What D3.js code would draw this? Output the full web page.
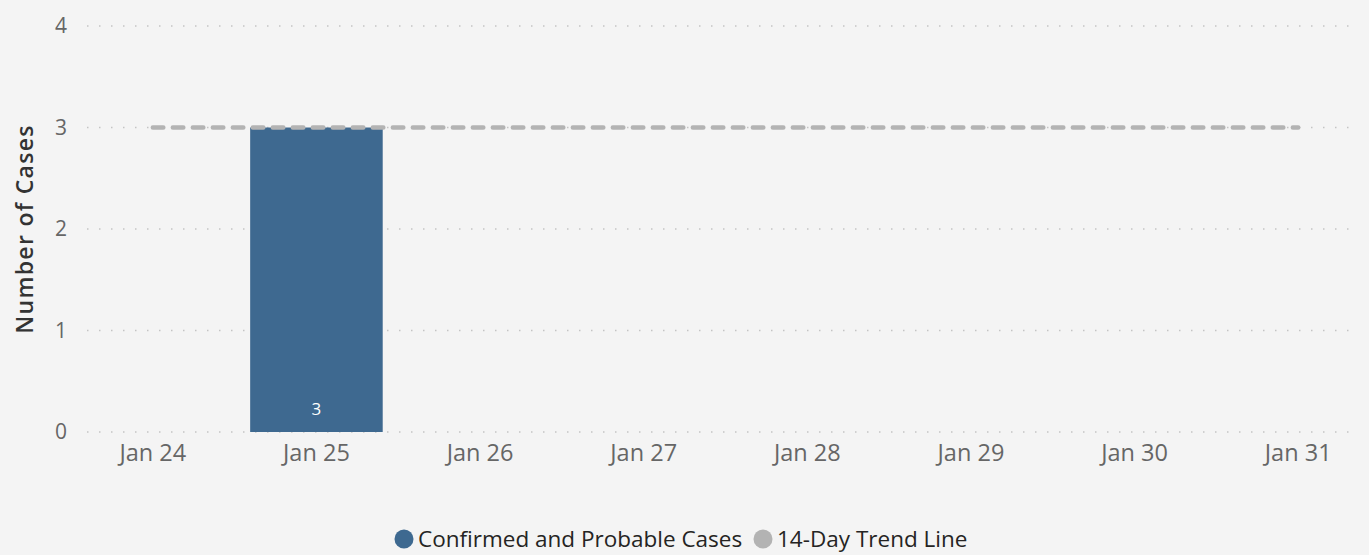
<!DOCTYPE html>
<html>
<head>
<meta charset="utf-8">
<script src="https://cdn.jsdelivr.net/npm/d3@7"></script>
<style>
  body { margin: 0; background: #f4f4f4; }
  svg { display: block; font-family: "Segoe UI", "Open Sans", sans-serif; }
</style>
</head>
<body>
<div id="chart"></div>
<script>
// data
const days = ["Jan 24", "Jan 25", "Jan 26", "Jan 27", "Jan 28", "Jan 29", "Jan 30", "Jan 31"];
const cases = [0, 3, 0, 0, 0, 0, 0, 0];
const trend = [3, 3, 3, 3, 3, 3, 3, 3];
const yTicks = [0, 1, 2, 3, 4];
const legendItems = ["Confirmed and Probable Cases", "14-Day Trend Line"];

const width = 1369, height = 555;
const barColor = "#3e6990", trendColor = "#b3b3b3";
const fontFamily = '"Segoe UI", "Open Sans", sans-serif';

const svg = d3.select("#chart").append("svg")
    .attr("width", width)
    .attr("height", height);

svg.append("rect").attr("width", width).attr("height", height).attr("fill", "#f4f4f4");

const x = d3.scaleBand()
    .domain(days)
    .range([71, 1380])
    .paddingInner(0.19)
    .paddingOuter(0.095);

const y = d3.scaleLinear()
    .domain([0, 4])
    .range([432, 26]);

// gridlines
svg.append("g").selectAll("line")
    .data(yTicks)
    .enter().append("line")
    .attr("x1", 87).attr("x2", 1358)
    .attr("y1", d => y(d)).attr("y2", d => y(d))
    .attr("stroke", "#c4c4c4")
    .attr("stroke-width", 1.5)
    .attr("stroke-dasharray", "1.5,10.5");

// y axis labels
const yAxis = d3.axisLeft(y).tickValues(yTicks).tickFormat(d3.format("d")).tickSize(0).tickPadding(0);
const yAxisG = svg.append("g")
    .attr("transform", "translate(67,0)")
    .call(yAxis)
    .attr("font-family", fontFamily);
yAxisG.select(".domain").remove();
yAxisG.selectAll("text")
    .attr("fill", "#666666")
    .style("font-size", "21px");

// x axis labels
const xAxis = d3.axisBottom(x).tickSize(0).tickPadding(0);
const xAxisG = svg.append("g")
    .attr("transform", "translate(0,444)")
    .call(xAxis)
    .attr("font-family", fontFamily);
xAxisG.select(".domain").remove();
xAxisG.selectAll("text")
    .attr("fill", "#666666")
    .style("font-size", "23.5px");

// y title
svg.append("text")
    .attr("transform", "translate(33," + y(2) + ") rotate(-90)")
    .attr("text-anchor", "middle")
    .attr("fill", "#333333")
    .style("font-size", "23px")
    .style("font-weight", "600")
    .style("letter-spacing", "1.3px")
    .text("Number of Cases");

// bars
const barData = days.map((d, i) => ({day: d, value: cases[i]})).filter(d => d.value > 0);
svg.selectAll(".bar")
    .data(barData)
    .enter().append("rect")
    .attr("class", "bar")
    .attr("x", d => x(d.day))
    .attr("y", d => y(d.value))
    .attr("width", x.bandwidth())
    .attr("height", d => y(0) - y(d.value))
    .attr("fill", barColor);

svg.selectAll(".barLabel")
    .data(barData)
    .enter().append("text")
    .attr("x", d => x(d.day) + x.bandwidth() / 2)
    .attr("y", y(0) - 17)
    .attr("text-anchor", "middle")
    .attr("fill", "#ffffff")
    .style("font-size", "17px")
    .text(d => d.value);

// trend line
const line = d3.line()
    .x((d, i) => x(days[i]) + x.bandwidth() / 2)
    .y(d => y(d));

svg.append("path")
    .datum(trend)
    .attr("d", line)
    .attr("fill", "none")
    .attr("stroke", trendColor)
    .attr("stroke-width", 4.5)
    .attr("stroke-linecap", "round")
    .attr("stroke-dasharray", "10.5,9.5");

// legend
const legend = svg.append("g").attr("transform", "translate(0,539)");
const legendColors = [barColor, trendColor];
const legendX = [404, 763];
legendItems.forEach((item, i) => {
    legend.append("circle")
        .attr("cx", legendX[i]).attr("cy", 0).attr("r", 9.5)
        .attr("fill", legendColors[i]);
    legend.append("text")
        .attr("x", legendX[i] + 14).attr("y", 0)
        .attr("dy", "0.35em")
        .attr("fill", "#252423")
        .style("font-size", "22.5px")
        .text(item);
});
</script>
</body>
</html>
